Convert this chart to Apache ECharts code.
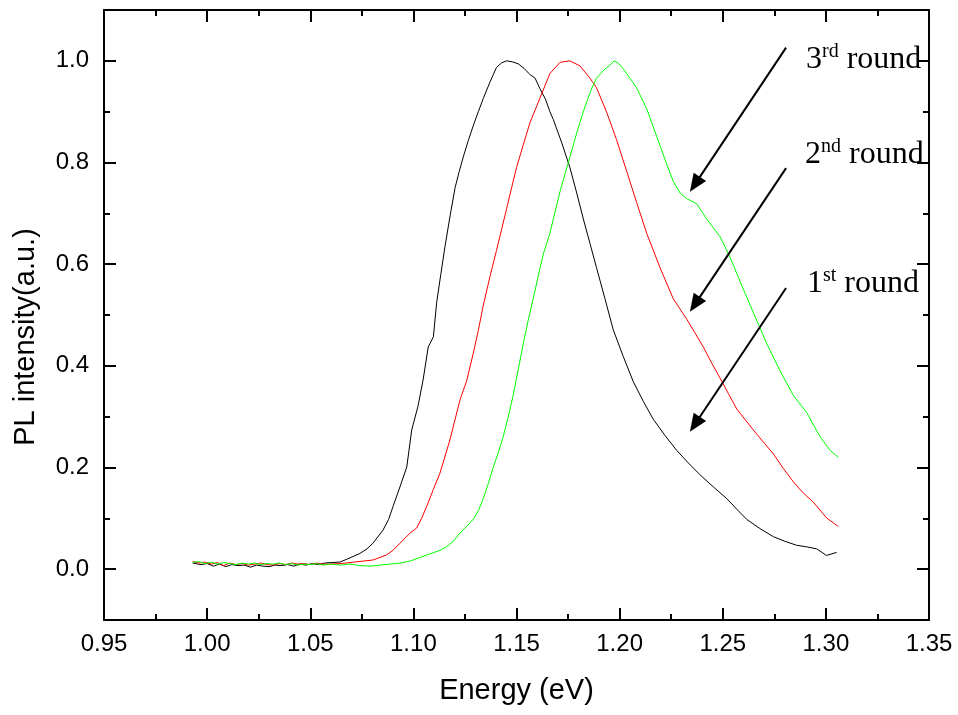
<!DOCTYPE html>
<html>
<head>
<meta charset="utf-8">
<title>PL intensity vs Energy</title>
<script src="https://cdn.jsdelivr.net/npm/echarts@6.0.0/dist/echarts.min.js"></script>
<style>
  html, body { margin: 0; padding: 0; background: #ffffff; }
  #chart { width: 958px; height: 715px; }
</style>
</head>
<body>
<div id="chart"></div>
<script>
// Normalised PL spectra: [energy (eV), intensity (a.u.)]
const round1 = [
  [0.993,0.012],[0.997,0.009],[1.000,0.011],[1.003,0.006],[1.006,0.010],[1.009,0.005],
  [1.012,0.009],[1.015,0.007],[1.018,0.008],[1.021,0.004],[1.024,0.008],[1.027,0.006],
  [1.030,0.005],[1.033,0.008],[1.036,0.007],[1.039,0.009],[1.042,0.006],[1.045,0.010],
  [1.048,0.008],[1.051,0.011],[1.054,0.009],[1.057,0.012],[1.060,0.013],[1.0644,0.014],
  [1.0680,0.020],[1.0741,0.031],[1.0775,0.040],[1.0804,0.051],[1.0853,0.077],[1.0880,0.098],
  [1.0901,0.123],[1.0935,0.162],[1.0968,0.201],[1.0992,0.274],[1.1022,0.320],[1.1047,0.372],
  [1.1072,0.437],[1.1097,0.457],[1.1113,0.525],
  [1.1133,0.580],[1.1153,0.634],[1.1178,0.695],[1.1202,0.750],[1.1222,0.782],[1.1242,0.811],
  [1.1266,0.843],[1.1290,0.872],[1.1315,0.900],[1.1339,0.926],[1.1371,0.958],[1.1403,0.987],
  [1.1428,0.996],[1.1452,1.000],[1.1480,0.998],[1.1509,0.994],[1.1537,0.985],[1.1565,0.973],
  [1.1590,0.966],[1.1614,0.945],[1.1640,0.925],[1.1662,0.900],[1.1678,0.885],[1.1720,0.838],
  [1.1759,0.790],[1.1792,0.740],[1.1824,0.689],[1.1856,0.641],[1.1888,0.593],[1.1929,0.532],
  [1.1969,0.471],[1.2018,0.418],[1.2066,0.369],[1.2115,0.330],[1.2163,0.295],[1.2220,0.263],
  [1.2276,0.234],[1.2333,0.209],[1.2389,0.186],[1.2454,0.162],[1.2519,0.139],[1.2568,0.118],
  [1.2616,0.098],[1.2680,0.080],[1.2745,0.064],[1.2800,0.055],[1.2858,0.047],[1.2906,0.044],
  [1.2955,0.040],[1.3003,0.027],[1.3052,0.033]
];

const round2 = [
  [0.993,0.015],[0.996,0.012],[0.999,0.014],[1.002,0.010],[1.005,0.013],[1.008,0.007],
  [1.011,0.012],[1.014,0.009],[1.017,0.011],[1.020,0.008],[1.023,0.010],[1.026,0.012],
  [1.029,0.009],[1.032,0.008],[1.035,0.011],[1.038,0.009],[1.041,0.012],[1.044,0.010],
  [1.047,0.011],[1.050,0.009],[1.053,0.012],[1.056,0.010],[1.0596,0.010],[1.0645,0.011],
  [1.0693,0.013],[1.0757,0.016],[1.0804,0.018],[1.0870,0.028],[1.0901,0.037],[1.0935,0.051],
  [1.0984,0.071],[1.1016,0.081],[1.1040,0.100],[1.1064,0.123],[1.1097,0.157],[1.1129,0.189],
  [1.1177,0.254],[1.1226,0.333],[1.1258,0.370],[1.1290,0.424],[1.1315,0.470],[1.1339,0.519],
  [1.1371,0.575],[1.1403,0.627],[1.1452,0.709],[1.1476,0.750],[1.1500,0.790],[1.1533,0.835],
  [1.1565,0.878],[1.1613,0.926],[1.1662,0.975],[1.1711,0.997],[1.1759,1.000],[1.1808,0.990],
  [1.1856,0.966],[1.1888,0.947],[1.1937,0.899],[1.1985,0.845],[1.2034,0.783],[1.2082,0.722],
  [1.2131,0.661],[1.2196,0.593],[1.2260,0.532],[1.2325,0.492],[1.2365,0.465],[1.2406,0.437],
  [1.2447,0.405],[1.2487,0.376],[1.2528,0.345],[1.2568,0.315],[1.2648,0.274],[1.2697,0.250],
  [1.2745,0.227],[1.2794,0.198],[1.2842,0.172],[1.2890,0.150],[1.2939,0.132],[1.3003,0.101],
  [1.3060,0.084]
];

const round3 = [
  [0.993,0.013],[0.996,0.015],[0.999,0.011],[1.002,0.014],[1.005,0.010],[1.008,0.013],
  [1.011,0.011],[1.014,0.009],[1.017,0.012],[1.020,0.010],[1.023,0.012],[1.026,0.009],
  [1.029,0.011],[1.032,0.010],[1.035,0.012],[1.038,0.009],[1.041,0.011],[1.044,0.008],
  [1.047,0.010],[1.050,0.009],[1.053,0.011],[1.056,0.008],[1.0596,0.010],[1.0645,0.008],
  [1.0693,0.010],[1.0740,0.007],[1.0790,0.006],[1.0840,0.008],[1.0887,0.010],[1.0935,0.012],
  [1.0984,0.016],[1.1032,0.023],[1.1080,0.030],[1.1129,0.037],[1.1161,0.044],[1.1194,0.055],
  [1.1226,0.071],[1.1258,0.084],[1.1290,0.098],[1.1315,0.115],[1.1339,0.139],[1.1363,0.168],
  [1.1387,0.200],[1.1412,0.230],[1.1436,0.261],[1.1460,0.300],[1.1484,0.342],[1.1508,0.392],
  [1.1533,0.444],[1.1557,0.490],[1.1581,0.532],[1.1606,0.578],[1.1630,0.620],[1.1662,0.661],
  [1.1711,0.743],[1.1759,0.811],[1.1792,0.858],[1.1816,0.890],[1.1840,0.919],[1.1864,0.945],
  [1.1888,0.966],[1.1929,0.984],[1.1950,0.990],[1.1973,1.000],[1.1995,0.995],[1.2018,0.984],
  [1.2050,0.966],[1.2082,0.947],[1.2131,0.906],[1.2180,0.851],[1.2228,0.797],[1.2260,0.763],
  [1.2293,0.740],[1.2325,0.729],[1.2373,0.719],[1.2422,0.689],[1.2487,0.654],[1.2535,0.614],
  [1.2584,0.566],[1.2648,0.505],[1.2713,0.444],[1.2778,0.390],[1.2842,0.342],[1.2907,0.308],
  [1.2971,0.261],[1.3020,0.234],[1.3060,0.220]
];

// Axis ranges and tick positions
const xRange = [0.95, 1.35];
const xStep = 0.05;
const yRange = [-0.1, 1.1];
const yStep = 0.1;
const yMajorTicks = [0, 0.2, 0.4, 0.6, 0.8, 1.0];

// Annotation arrows (tail -> head), in data units
const arrowTails = [[1.2807, 1.026], [1.2807, 0.789], [1.2807, 0.553]];
const arrowHeads = [[1.2365, 0.757], [1.2365, 0.521], [1.2365, 0.285]];

// Annotation labels: base text, superscript, trailing word
const noteLabels = [['3', 'rd', ' round'], ['2', 'nd', ' round'], ['1', 'st', ' round']];

const labelFont = 'Liberation Sans';
const serifFont = 'Liberation Serif';

const chart = echarts.init(document.getElementById('chart'), null, { renderer: 'canvas' });

const frameLine = { show: true, onZero: false, lineStyle: { color: '#000', width: 2 } };

function xAxisDef(pos, withLabels) {
  return {
    type: 'value', position: pos, min: xRange[0], max: xRange[1], interval: xStep,
    axisLine: frameLine,
    axisTick: { show: true, inside: true, length: 12, lineStyle: { color: '#000', width: 2 } },
    minorTick: { show: true, splitNumber: 2, length: 6, lineStyle: { color: '#000', width: 2 } },
    splitLine: { show: false }, minorSplitLine: { show: false },
    axisLabel: withLabels ? {
      show: true, margin: 12, color: '#000', fontFamily: labelFont, fontSize: 24,
      formatter: v => v.toFixed(2)
    } : { show: false },
    name: withLabels ? 'Energy (eV)' : '',
    nameLocation: 'middle', nameGap: 56,
    nameTextStyle: { color: '#000', fontFamily: labelFont, fontSize: 29 }
  };
}

function yMinorAxis(pos, withLabels) {
  return {
    type: 'value', position: pos, min: yRange[0], max: yRange[1], interval: yStep,
    axisLine: frameLine,
    axisTick: { show: true, inside: true, length: 6, lineStyle: { color: '#000', width: 2 } },
    splitLine: { show: false },
    axisLabel: withLabels ? {
      show: true, margin: 15, color: '#000', fontFamily: labelFont, fontSize: 24,
      customValues: yMajorTicks,
      formatter: v => v.toFixed(1)
    } : { show: false }
  };
}

function yMajorAxis(pos) {
  return {
    type: 'value', position: pos, min: yRange[0], max: yRange[1],
    axisLine: { show: false },
    axisTick: { show: true, inside: true, length: 12, customValues: yMajorTicks,
      lineStyle: { color: '#000', width: 2 } },
    splitLine: { show: false },
    axisLabel: { show: false }
  };
}

function lineSeries(name, data, color, extra) {
  return Object.assign({
    name, type: 'line', data, xAxisIndex: 0, yAxisIndex: 0,
    showSymbol: false, symbol: 'none', smooth: false,
    lineStyle: { color, width: 1 }, itemStyle: { color },
    emphasis: { disabled: true }, animation: false
  }, extra || {});
}

const arrowData = arrowTails.map((t, i) => [{ coord: t }, { coord: arrowHeads[i] }]);

const noteRich = {
  n: { fontFamily: serifFont, fontSize: 32, lineHeight: 36, fill: '#000' },
  s: { fontFamily: serifFont, fontSize: 20, lineHeight: 13, verticalAlign: 'top', fill: '#000' }
};
const notePlaces = [[806, 41.4], [805, 136.4], [807, 265.4]];
const noteGraphics = noteLabels.map((p, i) => ({
  type: 'text', x: notePlaces[i][0], y: notePlaces[i][1],
  style: { text: '{n|' + p[0] + '}{s|' + p[1] + '}{n|' + p[2] + '}', fill: '#000', rich: noteRich }
}));

chart.setOption({
  backgroundColor: '#ffffff',
  animation: false,
  grid: { left: 104, right: 29, top: 10, bottom: 95, containLabel: false },
  xAxis: [xAxisDef('bottom', true), xAxisDef('top', false)],
  yAxis: [yMinorAxis('left', true), yMajorAxis('left'), yMinorAxis('right', false), yMajorAxis('right')],
  series: [
    lineSeries('1st round', round1, '#000000'),
    lineSeries('2nd round', round2, '#ff0000'),
    lineSeries('3rd round', round3, '#00ff00', {
      markLine: {
        silent: true, animation: false,
        symbol: ['none', 'triangle'], symbolSize: [15, 18],
        lineStyle: { color: '#000', width: 2, type: 'solid' },
        itemStyle: { color: '#000' },
        label: { show: false },
        emphasis: { disabled: true },
        data: arrowData
      }
    })
  ],
  graphic: [
    {
      type: 'text', x: 26, y: 337, rotation: Math.PI / 2,
      style: {
        text: 'PL intensity(a.u.)', fill: '#000', font: '29px "Liberation Sans"',
        align: 'center', verticalAlign: 'middle'
      }
    }
  ].concat(noteGraphics)
});
</script>
</body>
</html>
